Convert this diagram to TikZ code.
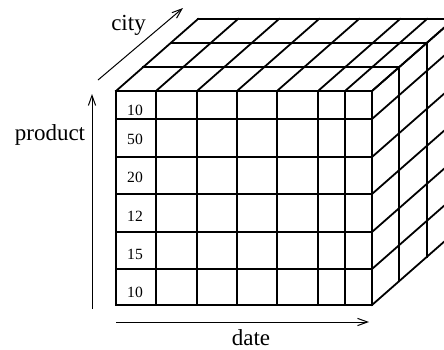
\documentclass[tikz,border=0pt]{standalone}
\usepackage{fontspec}
\setmainfont{Liberation Serif}
\usetikzlibrary{arrows.meta}

\begin{document}
\begin{tikzpicture}[x=0.5pt,y=-0.5pt,>={Straight Barb[length=5pt,width=3.6pt]}]
        \useasboundingbox (0,0) rectangle (444,349);
        \begin{scope}[line width=0.9pt,line cap=rect]
            \clip (0,0) rectangle (444,349);
            % front face
            \foreach \x in {116,156,197,237,277,318,345,372}
                \draw (\x,91)--(\x,305) (\x,91)--++(82,-72);
            \foreach \y in {91,119,157,194,232,269,305}
                \draw (116,\y)--(372,\y) (372,\y)--++(82,-72);
            % layers behind
            \foreach \k in {1,2,3}
                \draw ({116+27.33*\k},{91-24*\k})--++(256,0)--++(0,214);
        \end{scope}
        \coordinate (cityA) at (98,80);
        \coordinate (cityB) at (183,8);
        \coordinate (prodA) at (92,309);
        \coordinate (prodB) at (92,94);
        \coordinate (dateA) at (116,322);
        \coordinate (dateB) at (369,322);
        \draw[->,line width=0.5pt] (cityA)--(cityB);
        \draw[->,line width=0.5pt] (prodA)--(prodB);
        \draw[->,line width=0.5pt] (dateA)--(dateB);
        \node[anchor=base,font=\fontsize{11.5}{13}\selectfont] (city) at (128.5,30.5) {city};
        \node[anchor=base,font=\fontsize{11.5}{13}\selectfont] (product) at (50,140.5) {product};
        \node[anchor=base,font=\fontsize{11.5}{13}\selectfont] (date) at (251,345) {date};
        \foreach \v/\y [count=\i] in {10/115,50/144,20/182,12/221,15/259,10/297}
            \node[anchor=base,font=\fontsize{7.8}{9}\selectfont] (n\i) at (135,\y) {\v};
    \end{tikzpicture}
\end{document}
